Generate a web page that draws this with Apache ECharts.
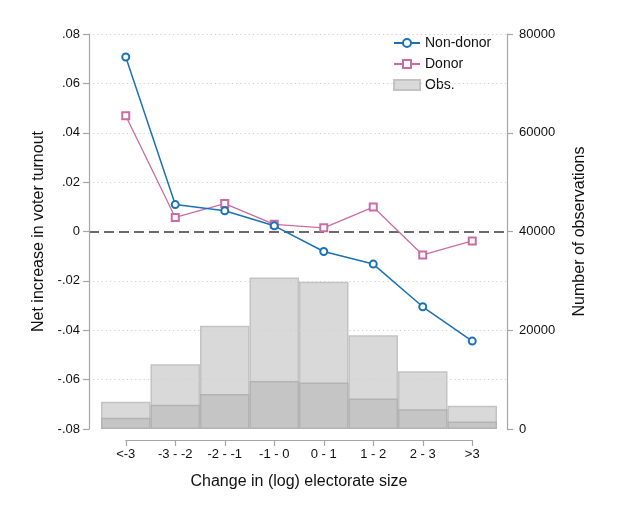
<!DOCTYPE html>
<html>
<head>
<meta charset="utf-8">
<script src="https://cdn.jsdelivr.net/npm/echarts@6/dist/echarts.min.js"></script>
<style>html,body{margin:0;padding:0;background:#fff}#c{width:621px;height:509px}</style>
</head>
<body>
<div id="c"></div>
<script>
var categories = ['<-3', '-3 - -2', '-2 - -1', '-1 - 0', '0 - 1', '1 - 2', '2 - 3', '>3'];
var nonDonor = [0.0707, 0.0109, 0.0084, 0.0023, -0.0081, -0.0132, -0.0305, -0.0444];
var donor = [0.0469, 0.0057, 0.0113, 0.0029, 0.0015, 0.0099, -0.0095, -0.0038];
var obsTotal = [5500, 13100, 20900, 30700, 29800, 19000, 11700, 4700];
var obsInner = [2300, 4900, 7100, 9700, 9400, 6200, 4000, 1500];
var leftTicks = {min: -0.08, max: 0.08, interval: 0.02};
var rightTicks = {min: 0, max: 80000, interval: 20000};

var FONT = '"Liberation Sans", Arial, sans-serif';
var chart = echarts.init(document.getElementById('c'), null, {renderer: 'canvas'});
var T = 'rgba(0,0,0,0)', G = '#cfcfcf';
function fmtL(v) {
  if (Math.abs(v) < 1e-9) return '0';
  return v.toFixed(2).replace('0.', '.');
}
chart.setOption({
  animation: false,
  textStyle: {fontFamily: FONT},
  legend: {
    orient: 'vertical', left: 388, top: 30,
    itemWidth: 26, itemHeight: 10, itemGap: 5,
    textStyle: {fontSize: 14, color: '#111', fontFamily: FONT, lineHeight: 16},
    data: ['Non-donor', 'Donor', {name: 'Obs.', icon: 'rect'}]
  },
  grid: [
    {left: 89, right: 114, top: 34, bottom: 80},
    {left: 101, right: 124, top: 34, bottom: 80},
    {left: 125.75, right: 148.75, top: 440, height: 0}
  ],
  xAxis: [
    {gridIndex: 0, type: 'category', data: ['x'], show: false},
    {gridIndex: 1, type: 'category', data: categories, show: false, boundaryGap: true},
    {gridIndex: 2, type: 'category', data: categories, boundaryGap: false, position: 'bottom',
     axisLine: {show: true, lineStyle: {color: '#a6a6a6', width: 1.2}},
     axisTick: {show: true, alignWithLabel: true, length: 6, inside: false, lineStyle: {color: '#a6a6a6', width: 1.2}},
     axisLabel: {show: true, interval: 0, margin: 8, fontSize: 13, color: '#111', fontFamily: FONT},
     splitLine: {show: false},
     name: 'Change in (log) electorate size', nameLocation: 'middle', nameGap: 34,
     nameTextStyle: {fontSize: 16, color: '#111', fontFamily: FONT}}
  ],
  yAxis: [
    {gridIndex: 0, type: 'value', position: 'left', min: leftTicks.min, max: leftTicks.max, interval: leftTicks.interval, z: 5,
     axisLine: {show: true, lineStyle: {color: '#a6a6a6', width: 1.2}},
     axisTick: {show: true, length: 6, inside: false, lineStyle: {color: '#a6a6a6', width: 1.2}},
     axisLabel: {fontSize: 13, color: '#111', margin: 9, formatter: fmtL, fontFamily: FONT},
     splitLine: {show: true, lineStyle: {color: [T, G, G, G, T, G, G, G, G], width: 1, type: [1.2, 3]}},
     name: 'Net increase in voter turnout', nameLocation: 'middle', nameGap: 37,
     nameTextStyle: {fontSize: 16, color: '#111', fontFamily: FONT}},
    {gridIndex: 0, type: 'value', position: 'right', min: rightTicks.min, max: rightTicks.max, interval: rightTicks.interval,
     axisLine: {show: true, lineStyle: {color: '#a6a6a6', width: 1.2}},
     axisTick: {show: true, length: 6, inside: false, lineStyle: {color: '#a6a6a6', width: 1.2}},
     axisLabel: {fontSize: 13, color: '#111', margin: 12, fontFamily: FONT, formatter: function (v) { return String(v); }},
     splitLine: {show: false},
     name: 'Number of observations', nameLocation: 'middle', nameGap: 65,
     nameTextStyle: {fontSize: 16, color: '#111', fontFamily: FONT}},
    {gridIndex: 1, type: 'value', min: leftTicks.min, max: leftTicks.max, show: false},
    {gridIndex: 1, type: 'value', min: rightTicks.min, max: rightTicks.max, show: false},
    {gridIndex: 2, type: 'value', show: false}
  ],
  series: [
    {name: 'zero', type: 'line', xAxisIndex: 0, yAxisIndex: 0, data: [null], silent: true, z: 6,
     markLine: {silent: true, symbol: 'none', label: {show: false},
       lineStyle: {color: '#3a3a3a', width: 1.6, type: [10, 5]},
       data: [{yAxis: 0}]}},
    {name: 'Obs.', type: 'bar', xAxisIndex: 1, yAxisIndex: 3, data: obsTotal, barWidth: '100%', barGap: '-100%',
     itemStyle: {color: '#d9d9d9', borderColor: '#c3c3c3', borderWidth: 1.5}, z: 2},
    {name: 'Obs. (inner)', type: 'bar', xAxisIndex: 1, yAxisIndex: 3, data: obsInner, barWidth: '100%', barGap: '-100%',
     itemStyle: {color: '#c5c5c5', borderColor: '#b3b3b3', borderWidth: 1.5}, z: 3},
    {name: 'Non-donor', type: 'line', xAxisIndex: 1, yAxisIndex: 2, data: nonDonor, z: 10,
     symbol: 'emptyCircle', symbolSize: 7,
     lineStyle: {color: '#1a72b6', width: 1.5},
     itemStyle: {color: '#1a72b6', borderWidth: 1.5}},
    {name: 'Donor', type: 'line', xAxisIndex: 1, yAxisIndex: 2, data: donor, z: 9,
     symbol: 'emptyRect', symbolSize: 7,
     lineStyle: {color: '#c96ca3', width: 1.3},
     itemStyle: {color: '#c96ca3', borderWidth: 1.5}}
  ]
});
</script>
</body>
</html>
